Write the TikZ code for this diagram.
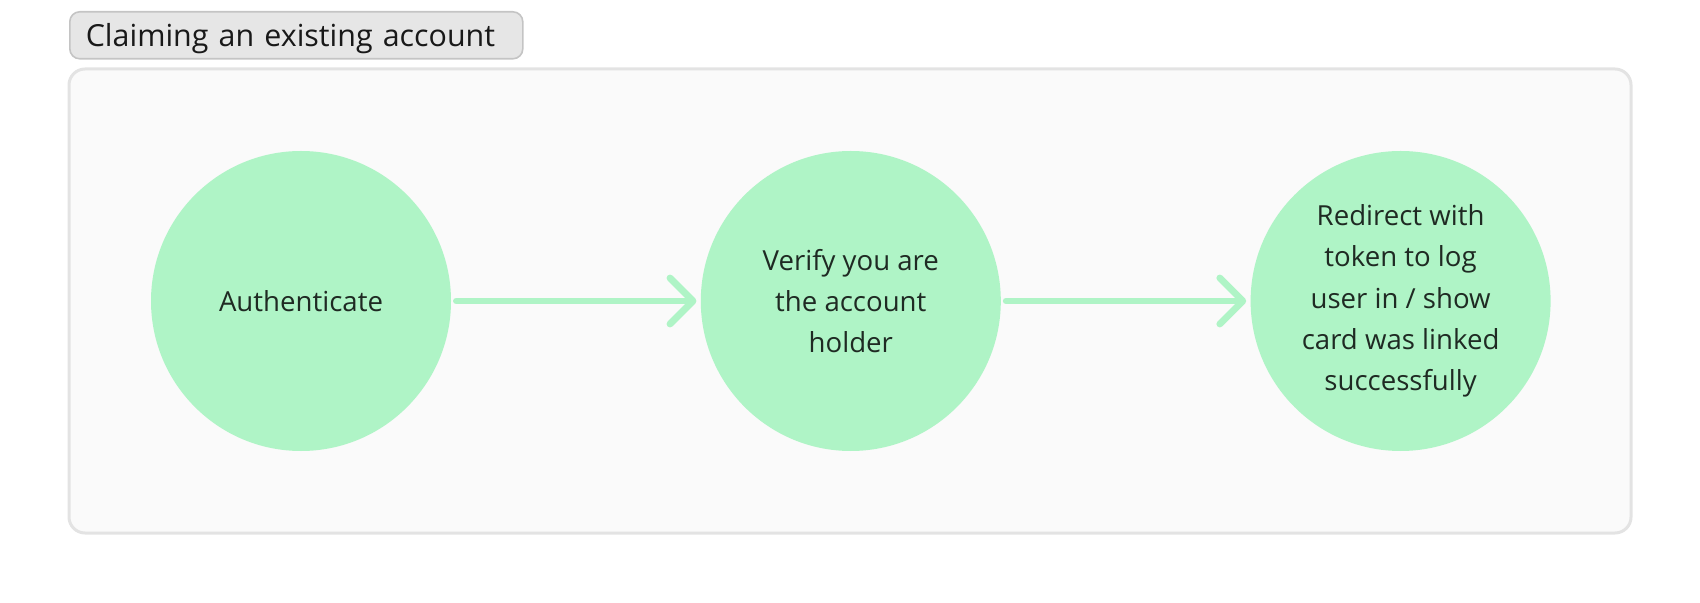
\documentclass[tikz,border=0pt]{standalone}
\usepackage{fontspec}
\setmainfont{Open Sans}
\usetikzlibrary{positioning,arrows.meta}

\definecolor{mint}{HTML}{AFF4C6}
\definecolor{ink}{HTML}{1F2A23}
\definecolor{panelfill}{HTML}{FAFAFA}
\definecolor{panelline}{HTML}{E3E3E3}
\definecolor{tagfill}{HTML}{E6E6E6}
\definecolor{tagline}{HTML}{C4C4C4}

\begin{document}
\begin{tikzpicture} [x=0.5pt, y=-0.5pt,
	stage/.style={circle, fill=mint, draw=none, minimum size=150pt, inner sep=0pt,
		align=center, text=ink, font=\fontsize{13.8}{20.6}\selectfont},
	flow/.style={draw=mint, line width=3.4pt, line cap=round,
		-{Straight Barb[length=11.5pt, width=23pt, round]},
		shorten <=2.5pt, shorten >=2pt},
	frame/.style={draw=panelline, fill=panelfill, line width=1.5pt, rounded corners=8pt},
	tag/.style={draw=tagline, fill=tagfill, line width=0.8pt, rounded corners=5pt,
		anchor=north west, minimum height=23.5pt, text width=210.5pt, inner xsep=8pt,
		text height=13.5pt, text depth=2pt,
		align=left, font=\fontsize{15.2}{17}\selectfont, text=black!90}]
	\useasboundingbox (0,0) rectangle (1700,603);
	
	% panel and its title
	\draw[frame] (69,69) rectangle (1631,533);
	\node[tag] (title) at (69,11) {Claiming an existing account};
	
	% steps
	\node[stage] (auth) at (301,301) {Authenticate};
	\node[stage, right=124.5pt of auth] (verify) {Verify you are\\the account\\holder};
	\node[stage, right=124.5pt of verify] (redirect) {Redirect with\\token to log\\user in / show\\card was linked\\successfully};
	
	\draw[flow] (auth) -- (verify);
	\draw[flow] (verify) -- (redirect);
\end{tikzpicture}
\end{document}
